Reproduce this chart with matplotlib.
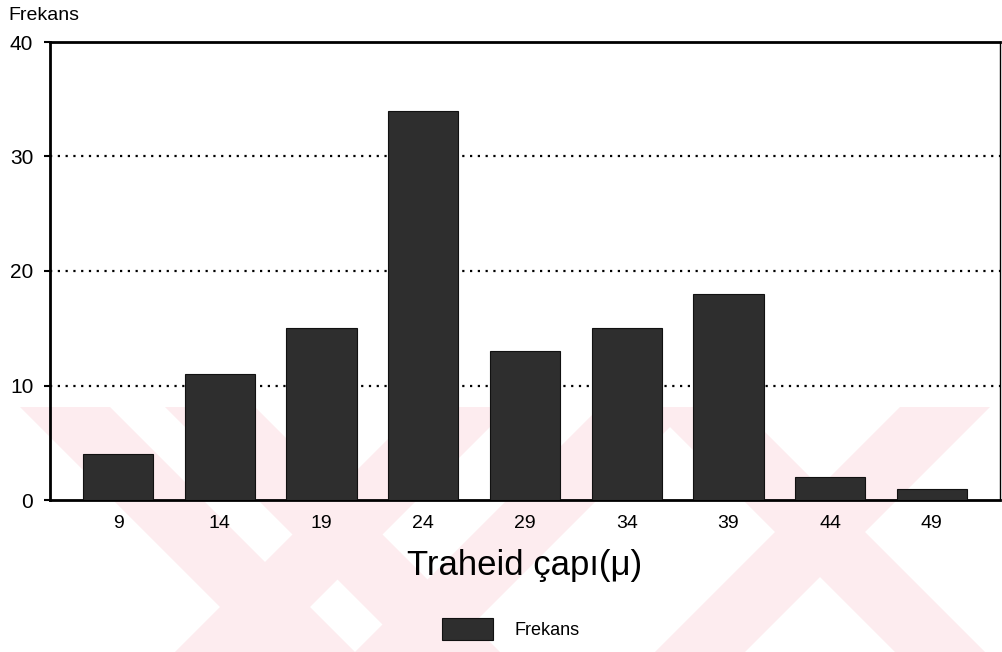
import matplotlib
matplotlib.use("Agg")
import matplotlib.pyplot as plt
from matplotlib.patches import Polygon
import numpy as np

# traheid diameter classes and their counts
capi = ["9", "14", "19", "24", "29", "34", "39", "44", "49"]
frekans = [4, 11, 15, 34, 13, 15, 18, 2, 1]
yticks = [0, 10, 20, 30, 40]

plt.rcParams['font.family'] = ['Liberation Sans', 'DejaVu Sans']

fig = plt.figure(figsize=(10.02, 6.52), dpi=100)

# faint pink background bands (pixel coords, y from top)
W, H = 1002, 652
bands = [
    [(20, 407), (110, 407), (355, 652), (265, 652)],
    [(165, 407), (255, 407), (500, 652), (410, 652)],
    [(420, 407), (510, 407), (265, 652), (175, 652)],
    [(600, 407), (690, 407), (445, 652), (355, 652)],
    [(650, 407), (740, 407), (985, 652), (895, 652)],
    [(900, 407), (990, 407), (745, 652), (655, 652)],
]
for b in bands:
    pts = [(x / W, 1 - y / H) for x, y in b]
    fig.patches.append(Polygon(pts, closed=True, transform=fig.transFigure,
                               facecolor='#fdecef', edgecolor='none', zorder=-5))

ax = fig.add_axes([50 / W, 1 - 500 / H, 950 / W, 458 / H])
ax.patch.set_alpha(0)

x = np.arange(len(capi))
ax.bar(x, frekans, width=0.69, color='#2e2e2e', edgecolor='#111111',
       linewidth=0.8, zorder=3, label='Frekans')

for v in yticks[1:-1]:
    ax.axhline(v, color='black', linestyle=(0, (1, 2.5)), linewidth=1.6, zorder=1)

ax.set_xlim(-0.67, len(capi) - 0.33)
ax.set_ylim(0, 40)
ax.set_yticks(yticks)
ax.set_xticks(x)
ax.set_xticklabels(capi)
ax.tick_params(axis='y', length=4, width=1.5, pad=8, labelsize=15)
ax.tick_params(axis='x', length=0, pad=11, labelsize=14)

for s in ['left', 'top', 'bottom']:
    ax.spines[s].set_linewidth(2)
ax.spines['right'].set_linewidth(1)

ax.set_xlabel('Traheid çapı(μ)', fontsize=25, labelpad=12)
fig.text(8 / W, 1 - 16 / H, 'Frekans', fontsize=14, va='center', ha='left')

fig.legend(loc='center', bbox_to_anchor=(0.51, 1 - 629 / H), frameon=False,
           fontsize=13, handlelength=2.8, handleheight=1.5, handletextpad=1.2)

fig.savefig('out.png', dpi=100)
